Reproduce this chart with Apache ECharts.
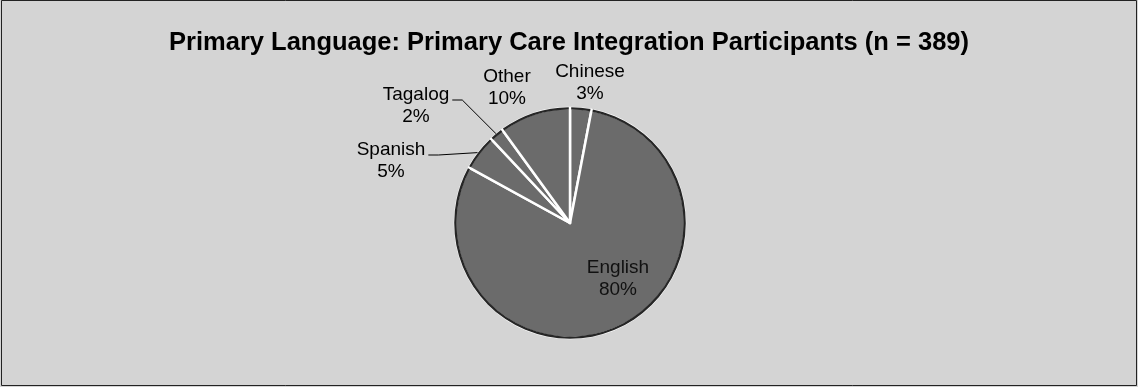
<!DOCTYPE html>
<html><head><meta charset="utf-8">
<script src="https://cdn.jsdelivr.net/npm/echarts@6/dist/echarts.min.js"></script>
<style>html,body{margin:0;padding:0;background:#d4d4d4}#c{width:1138px;height:387px}</style>
</head><body><div id="c"></div>
<script>
const titleText = 'Primary Language: Primary Care Integration Participants (n = 389)';
const categories = ['Chinese', 'English', 'Spanish', 'Tagalog', 'Other'];
const percents = [3, 80, 5, 2, 10];

// styling: label offsets from pie centre, which labels get leader lines
const C = [570, 223], R = 115;
const labelSpots = { Chinese: [20, -140], English: [48, 56], Spanish: [-179, -62], Tagalog: [-154, -117], Other: [-63, -135] };
const withLeader = { Spanish: true, Tagalog: true };

const chart = echarts.init(document.getElementById('c'));
chart.setOption({
  backgroundColor: '#d4d4d4',
  animation: false,
  title: {
    text: titleText, left: 'center', top: 25,
    textStyle: { fontFamily: 'Liberation Sans', fontWeight: 'bold', fontSize: 25.5, color: '#000' }
  },
  graphic: [{
    type: 'rect', silent: true,
    shape: { x: 1.5, y: 0.5, width: 1135, height: 385 },
    style: { fill: null, stroke: '#222', lineWidth: 1 }
  }],
  series: [{
    type: 'pie', center: C, radius: R, startAngle: 90, clockwise: true,
    itemStyle: { color: '#6b6b6b', borderColor: '#ffffff', borderWidth: 2.5 },
    emphasis: { disabled: true },
    data: categories.map((n, i) => ({
      name: n, value: percents[i],
      labelLine: { show: !!withLeader[n] },
      label: n === 'English' ? { color: '#111' } : {}
    })),
    label: {
      show: true, position: 'outside',
      formatter: p => p.name + '\n' + Math.round(p.percent) + '%',
      fontFamily: 'Liberation Sans', fontSize: 19, lineHeight: 22, color: '#000', align: 'center'
    },
    labelLine: { show: true, lineStyle: { color: '#000', width: 1 } },
    labelLayout: function (p) {
      const name = categories[p.dataIndex];
      const s = labelSpots[name];
      const x = C[0] + s[0], y = C[1] + s[1];
      const out = { x: x, y: y, align: 'center', verticalAlign: 'middle' };
      if (withLeader[name] && p.labelLinePoints) {
        const rx = x + p.labelRect.width / 2;
        const ly = y - 6;
        const edge = p.labelLinePoints[0];
        out.labelLinePoints = [[rx + 3, ly], [rx + 13, ly], [edge[0], edge[1]]];
      }
      return out;
    }
  }, {
    // dark rim on the outer edge of the slices
    type: 'pie', center: C, radius: [R - 1.5, R + 0.8], startAngle: 90, clockwise: true, silent: true,
    padAngle: 1.2,
    itemStyle: { color: '#262626', borderWidth: 0 },
    label: { show: false }, labelLine: { show: false },
    emphasis: { disabled: true },
    data: categories.map((n, i) => ({ name: n, value: percents[i] }))
  }]
});
</script></body></html>
